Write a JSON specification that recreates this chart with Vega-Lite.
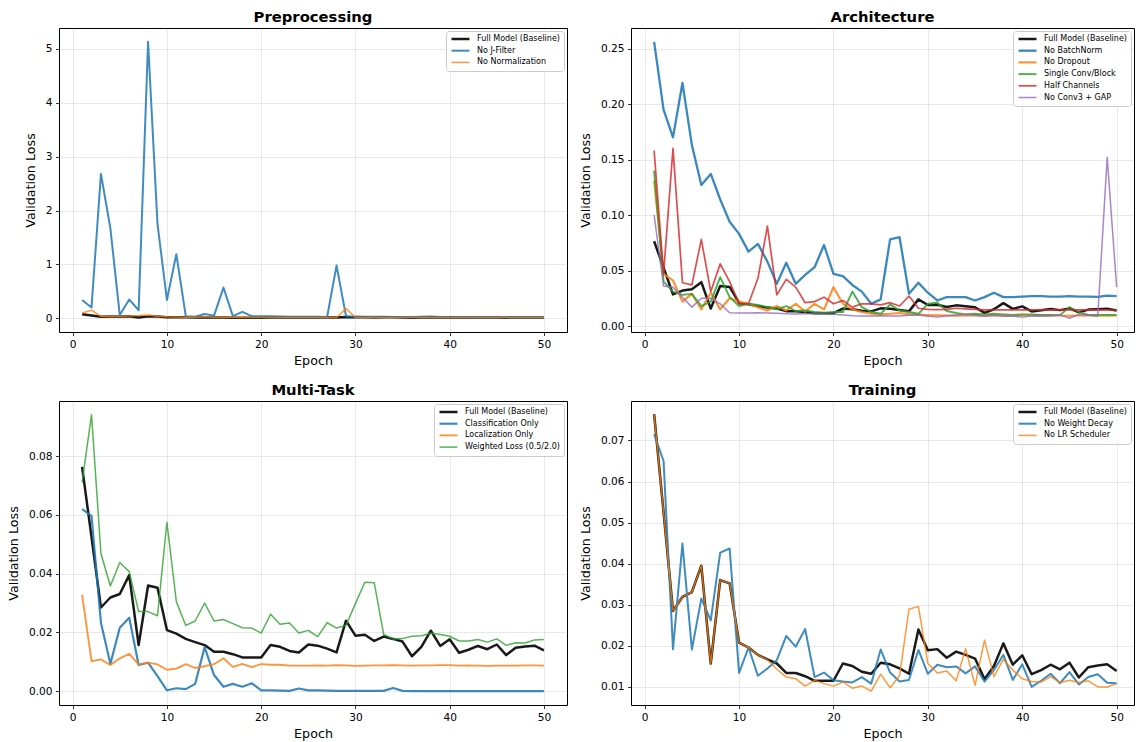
{
"$schema": "https://vega.github.io/schema/vega-lite/v6.json",
"padding": {"left": 6, "top": 9, "right": 0, "bottom": 0},
"columns": 2,
"spacing": {"row": 69, "column": 64},
"bounds": "flush",
"align": "each",
"resolve": {"scale": {"color": "independent", "strokeWidth": "independent", "opacity": "independent"}},
"config": {
"font": "DejaVu Sans",
"view": {"stroke": "black", "strokeWidth": 1},
"axis": {"domain": false, "grid": true, "gridColor": "#b0b0b0", "gridOpacity": 0.35, "gridWidth": 0.8, "tickColor": "black", "tickSize": 3.5, "tickWidth": 0.8, "labelFont": "DejaVu Sans", "labelFontSize": 10.6, "labelColor": "black", "labelPadding": 3.5, "titleFont": "DejaVu Sans", "titleFontSize": 12.7, "titleFontWeight": "normal", "titleColor": "black"},
"axisX": {"titlePadding": 5},
"axisY": {"titlePadding": 8},
"title": {"font": "DejaVu Sans", "fontSize": 14.8, "fontWeight": "bold", "color": "black", "offset": 3, "baseline": "alphabetic", "frame": "group", "anchor": "middle"},
"legend": {"orient": "top-right", "offset": 3, "fillColor": "rgba(255,255,255,0.8)", "strokeColor": "#cccccc", "cornerRadius": 3, "padding": 4, "labelFont": "DejaVu Sans", "labelFontSize": 8, "labelColor": "black", "symbolType": "M-1,0H6.2", "symbolSize": 25, "labelOffset": 19, "rowPadding": 3.7, "title": null},
"line": {"strokeJoin": "round"}
},
"datasets": {
"pre": [
{"series":"Full Model (Baseline)","epoch":1,"loss":0.0764},{"series":"Full Model (Baseline)","epoch":2,"loss":0.0525},{"series":"Full Model (Baseline)","epoch":3,"loss":0.0285},{"series":"Full Model (Baseline)","epoch":4,"loss":0.0319},{"series":"Full Model (Baseline)","epoch":5,"loss":0.0331},{"series":"Full Model (Baseline)","epoch":6,"loss":0.0395},{"series":"Full Model (Baseline)","epoch":7,"loss":0.0157},{"series":"Full Model (Baseline)","epoch":8,"loss":0.036},{"series":"Full Model (Baseline)","epoch":9,"loss":0.0352},{"series":"Full Model (Baseline)","epoch":10,"loss":0.0208},
{"series":"Full Model (Baseline)","epoch":11,"loss":0.0196},{"series":"Full Model (Baseline)","epoch":12,"loss":0.0178},{"series":"Full Model (Baseline)","epoch":13,"loss":0.0167},{"series":"Full Model (Baseline)","epoch":14,"loss":0.0157},{"series":"Full Model (Baseline)","epoch":15,"loss":0.0134},{"series":"Full Model (Baseline)","epoch":16,"loss":0.0134},{"series":"Full Model (Baseline)","epoch":17,"loss":0.0126},{"series":"Full Model (Baseline)","epoch":18,"loss":0.0115},{"series":"Full Model (Baseline)","epoch":19,"loss":0.0115},{"series":"Full Model (Baseline)","epoch":20,"loss":0.0115},
{"series":"Full Model (Baseline)","epoch":21,"loss":0.0157},{"series":"Full Model (Baseline)","epoch":22,"loss":0.0151},{"series":"Full Model (Baseline)","epoch":23,"loss":0.0137},{"series":"Full Model (Baseline)","epoch":24,"loss":0.0132},{"series":"Full Model (Baseline)","epoch":25,"loss":0.0159},{"series":"Full Model (Baseline)","epoch":26,"loss":0.0155},{"series":"Full Model (Baseline)","epoch":27,"loss":0.0145},{"series":"Full Model (Baseline)","epoch":28,"loss":0.0132},{"series":"Full Model (Baseline)","epoch":29,"loss":0.024},{"series":"Full Model (Baseline)","epoch":30,"loss":0.0189},
{"series":"Full Model (Baseline)","epoch":31,"loss":0.0192},{"series":"Full Model (Baseline)","epoch":32,"loss":0.0171},{"series":"Full Model (Baseline)","epoch":33,"loss":0.0186},{"series":"Full Model (Baseline)","epoch":34,"loss":0.0178},{"series":"Full Model (Baseline)","epoch":35,"loss":0.0169},{"series":"Full Model (Baseline)","epoch":36,"loss":0.0119},{"series":"Full Model (Baseline)","epoch":37,"loss":0.0151},{"series":"Full Model (Baseline)","epoch":38,"loss":0.0206},{"series":"Full Model (Baseline)","epoch":39,"loss":0.0154},{"series":"Full Model (Baseline)","epoch":40,"loss":0.0177},
{"series":"Full Model (Baseline)","epoch":41,"loss":0.0131},{"series":"Full Model (Baseline)","epoch":42,"loss":0.0141},{"series":"Full Model (Baseline)","epoch":43,"loss":0.0154},{"series":"Full Model (Baseline)","epoch":44,"loss":0.0143},{"series":"Full Model (Baseline)","epoch":45,"loss":0.0159},{"series":"Full Model (Baseline)","epoch":46,"loss":0.0123},{"series":"Full Model (Baseline)","epoch":47,"loss":0.0148},{"series":"Full Model (Baseline)","epoch":48,"loss":0.0152},{"series":"Full Model (Baseline)","epoch":49,"loss":0.0155},{"series":"Full Model (Baseline)","epoch":50,"loss":0.0139},
{"series":"No J-Filter","epoch":1,"loss":0.34},{"series":"No J-Filter","epoch":2,"loss":0.2},{"series":"No J-Filter","epoch":3,"loss":2.68},{"series":"No J-Filter","epoch":4,"loss":1.67},{"series":"No J-Filter","epoch":5,"loss":0.06},{"series":"No J-Filter","epoch":6,"loss":0.35},{"series":"No J-Filter","epoch":7,"loss":0.15},{"series":"No J-Filter","epoch":8,"loss":5.13},{"series":"No J-Filter","epoch":9,"loss":1.75},{"series":"No J-Filter","epoch":10,"loss":0.34},
{"series":"No J-Filter","epoch":11,"loss":1.19},{"series":"No J-Filter","epoch":12,"loss":0.04},{"series":"No J-Filter","epoch":13,"loss":0.03},{"series":"No J-Filter","epoch":14,"loss":0.08},{"series":"No J-Filter","epoch":15,"loss":0.05},{"series":"No J-Filter","epoch":16,"loss":0.57},{"series":"No J-Filter","epoch":17,"loss":0.04},{"series":"No J-Filter","epoch":18,"loss":0.12},{"series":"No J-Filter","epoch":19,"loss":0.04},{"series":"No J-Filter","epoch":20,"loss":0.04},
{"series":"No J-Filter","epoch":21,"loss":0.04},{"series":"No J-Filter","epoch":22,"loss":0.035},{"series":"No J-Filter","epoch":23,"loss":0.03},{"series":"No J-Filter","epoch":24,"loss":0.03},{"series":"No J-Filter","epoch":25,"loss":0.03},{"series":"No J-Filter","epoch":26,"loss":0.03},{"series":"No J-Filter","epoch":27,"loss":0.025},{"series":"No J-Filter","epoch":28,"loss":0.98},{"series":"No J-Filter","epoch":29,"loss":0.04},{"series":"No J-Filter","epoch":30,"loss":0.035},
{"series":"No J-Filter","epoch":31,"loss":0.03},{"series":"No J-Filter","epoch":32,"loss":0.03},{"series":"No J-Filter","epoch":33,"loss":0.03},{"series":"No J-Filter","epoch":34,"loss":0.025},{"series":"No J-Filter","epoch":35,"loss":0.025},{"series":"No J-Filter","epoch":36,"loss":0.025},{"series":"No J-Filter","epoch":37,"loss":0.03},{"series":"No J-Filter","epoch":38,"loss":0.035},{"series":"No J-Filter","epoch":39,"loss":0.025},{"series":"No J-Filter","epoch":40,"loss":0.025},
{"series":"No J-Filter","epoch":41,"loss":0.025},{"series":"No J-Filter","epoch":42,"loss":0.025},{"series":"No J-Filter","epoch":43,"loss":0.02},{"series":"No J-Filter","epoch":44,"loss":0.02},{"series":"No J-Filter","epoch":45,"loss":0.02},{"series":"No J-Filter","epoch":46,"loss":0.02},{"series":"No J-Filter","epoch":47,"loss":0.02},{"series":"No J-Filter","epoch":48,"loss":0.02},{"series":"No J-Filter","epoch":49,"loss":0.02},{"series":"No J-Filter","epoch":50,"loss":0.02},
{"series":"No Normalization","epoch":1,"loss":0.1},{"series":"No Normalization","epoch":2,"loss":0.15},{"series":"No Normalization","epoch":3,"loss":0.035},{"series":"No Normalization","epoch":4,"loss":0.04},{"series":"No Normalization","epoch":5,"loss":0.04},{"series":"No Normalization","epoch":6,"loss":0.045},{"series":"No Normalization","epoch":7,"loss":0.05},{"series":"No Normalization","epoch":8,"loss":0.06},{"series":"No Normalization","epoch":9,"loss":0.04},{"series":"No Normalization","epoch":10,"loss":0.03},
{"series":"No Normalization","epoch":11,"loss":0.025},{"series":"No Normalization","epoch":12,"loss":0.02},{"series":"No Normalization","epoch":13,"loss":0.02},{"series":"No Normalization","epoch":14,"loss":0.03},{"series":"No Normalization","epoch":15,"loss":0.02},{"series":"No Normalization","epoch":16,"loss":0.02},{"series":"No Normalization","epoch":17,"loss":0.015},{"series":"No Normalization","epoch":18,"loss":0.02},{"series":"No Normalization","epoch":19,"loss":0.015},{"series":"No Normalization","epoch":20,"loss":0.015},
{"series":"No Normalization","epoch":21,"loss":0.015},{"series":"No Normalization","epoch":22,"loss":0.015},{"series":"No Normalization","epoch":23,"loss":0.015},{"series":"No Normalization","epoch":24,"loss":0.015},{"series":"No Normalization","epoch":25,"loss":0.015},{"series":"No Normalization","epoch":26,"loss":0.015},{"series":"No Normalization","epoch":27,"loss":0.015},{"series":"No Normalization","epoch":28,"loss":0.015},{"series":"No Normalization","epoch":29,"loss":0.18},{"series":"No Normalization","epoch":30,"loss":0.02},
{"series":"No Normalization","epoch":31,"loss":0.015},{"series":"No Normalization","epoch":32,"loss":0.015},{"series":"No Normalization","epoch":33,"loss":0.015},{"series":"No Normalization","epoch":34,"loss":0.015},{"series":"No Normalization","epoch":35,"loss":0.015},{"series":"No Normalization","epoch":36,"loss":0.015},{"series":"No Normalization","epoch":37,"loss":0.015},{"series":"No Normalization","epoch":38,"loss":0.015},{"series":"No Normalization","epoch":39,"loss":0.015},{"series":"No Normalization","epoch":40,"loss":0.015},
{"series":"No Normalization","epoch":41,"loss":0.015},{"series":"No Normalization","epoch":42,"loss":0.015},{"series":"No Normalization","epoch":43,"loss":0.015},{"series":"No Normalization","epoch":44,"loss":0.015},{"series":"No Normalization","epoch":45,"loss":0.015},{"series":"No Normalization","epoch":46,"loss":0.015},{"series":"No Normalization","epoch":47,"loss":0.015},{"series":"No Normalization","epoch":48,"loss":0.015},{"series":"No Normalization","epoch":49,"loss":0.015},{"series":"No Normalization","epoch":50,"loss":0.015}
],
"arch": [
{"series":"Full Model (Baseline)","epoch":1,"loss":0.0764},{"series":"Full Model (Baseline)","epoch":2,"loss":0.0525},{"series":"Full Model (Baseline)","epoch":3,"loss":0.0285},{"series":"Full Model (Baseline)","epoch":4,"loss":0.0319},{"series":"Full Model (Baseline)","epoch":5,"loss":0.0331},{"series":"Full Model (Baseline)","epoch":6,"loss":0.0395},{"series":"Full Model (Baseline)","epoch":7,"loss":0.0157},{"series":"Full Model (Baseline)","epoch":8,"loss":0.036},{"series":"Full Model (Baseline)","epoch":9,"loss":0.0352},{"series":"Full Model (Baseline)","epoch":10,"loss":0.0208},
{"series":"Full Model (Baseline)","epoch":11,"loss":0.0196},{"series":"Full Model (Baseline)","epoch":12,"loss":0.0178},{"series":"Full Model (Baseline)","epoch":13,"loss":0.0167},{"series":"Full Model (Baseline)","epoch":14,"loss":0.0157},{"series":"Full Model (Baseline)","epoch":15,"loss":0.0134},{"series":"Full Model (Baseline)","epoch":16,"loss":0.0134},{"series":"Full Model (Baseline)","epoch":17,"loss":0.0126},{"series":"Full Model (Baseline)","epoch":18,"loss":0.0115},{"series":"Full Model (Baseline)","epoch":19,"loss":0.0115},{"series":"Full Model (Baseline)","epoch":20,"loss":0.0115},
{"series":"Full Model (Baseline)","epoch":21,"loss":0.0157},{"series":"Full Model (Baseline)","epoch":22,"loss":0.0151},{"series":"Full Model (Baseline)","epoch":23,"loss":0.0137},{"series":"Full Model (Baseline)","epoch":24,"loss":0.0132},{"series":"Full Model (Baseline)","epoch":25,"loss":0.0159},{"series":"Full Model (Baseline)","epoch":26,"loss":0.0155},{"series":"Full Model (Baseline)","epoch":27,"loss":0.0145},{"series":"Full Model (Baseline)","epoch":28,"loss":0.0132},{"series":"Full Model (Baseline)","epoch":29,"loss":0.024},{"series":"Full Model (Baseline)","epoch":30,"loss":0.0189},
{"series":"Full Model (Baseline)","epoch":31,"loss":0.0192},{"series":"Full Model (Baseline)","epoch":32,"loss":0.0171},{"series":"Full Model (Baseline)","epoch":33,"loss":0.0186},{"series":"Full Model (Baseline)","epoch":34,"loss":0.0178},{"series":"Full Model (Baseline)","epoch":35,"loss":0.0169},{"series":"Full Model (Baseline)","epoch":36,"loss":0.0119},{"series":"Full Model (Baseline)","epoch":37,"loss":0.0151},{"series":"Full Model (Baseline)","epoch":38,"loss":0.0206},{"series":"Full Model (Baseline)","epoch":39,"loss":0.0154},{"series":"Full Model (Baseline)","epoch":40,"loss":0.0177},
{"series":"Full Model (Baseline)","epoch":41,"loss":0.0131},{"series":"Full Model (Baseline)","epoch":42,"loss":0.0141},{"series":"Full Model (Baseline)","epoch":43,"loss":0.0154},{"series":"Full Model (Baseline)","epoch":44,"loss":0.0143},{"series":"Full Model (Baseline)","epoch":45,"loss":0.0159},{"series":"Full Model (Baseline)","epoch":46,"loss":0.0123},{"series":"Full Model (Baseline)","epoch":47,"loss":0.0148},{"series":"Full Model (Baseline)","epoch":48,"loss":0.0152},{"series":"Full Model (Baseline)","epoch":49,"loss":0.0155},{"series":"Full Model (Baseline)","epoch":50,"loss":0.0139},
{"series":"No BatchNorm","epoch":1,"loss":0.256},{"series":"No BatchNorm","epoch":2,"loss":0.195},{"series":"No BatchNorm","epoch":3,"loss":0.17},{"series":"No BatchNorm","epoch":4,"loss":0.219},{"series":"No BatchNorm","epoch":5,"loss":0.163},{"series":"No BatchNorm","epoch":6,"loss":0.127},{"series":"No BatchNorm","epoch":7,"loss":0.137},{"series":"No BatchNorm","epoch":8,"loss":0.114},{"series":"No BatchNorm","epoch":9,"loss":0.094},{"series":"No BatchNorm","epoch":10,"loss":0.083},
{"series":"No BatchNorm","epoch":11,"loss":0.067},{"series":"No BatchNorm","epoch":12,"loss":0.074},{"series":"No BatchNorm","epoch":13,"loss":0.058},{"series":"No BatchNorm","epoch":14,"loss":0.038},{"series":"No BatchNorm","epoch":15,"loss":0.057},{"series":"No BatchNorm","epoch":16,"loss":0.038},{"series":"No BatchNorm","epoch":17,"loss":0.046},{"series":"No BatchNorm","epoch":18,"loss":0.053},{"series":"No BatchNorm","epoch":19,"loss":0.073},{"series":"No BatchNorm","epoch":20,"loss":0.047},
{"series":"No BatchNorm","epoch":21,"loss":0.045},{"series":"No BatchNorm","epoch":22,"loss":0.037},{"series":"No BatchNorm","epoch":23,"loss":0.031},{"series":"No BatchNorm","epoch":24,"loss":0.02},{"series":"No BatchNorm","epoch":25,"loss":0.024},{"series":"No BatchNorm","epoch":26,"loss":0.078},{"series":"No BatchNorm","epoch":27,"loss":0.08},{"series":"No BatchNorm","epoch":28,"loss":0.029},{"series":"No BatchNorm","epoch":29,"loss":0.039},{"series":"No BatchNorm","epoch":30,"loss":0.03},
{"series":"No BatchNorm","epoch":31,"loss":0.023},{"series":"No BatchNorm","epoch":32,"loss":0.026},{"series":"No BatchNorm","epoch":33,"loss":0.026},{"series":"No BatchNorm","epoch":34,"loss":0.026},{"series":"No BatchNorm","epoch":35,"loss":0.023},{"series":"No BatchNorm","epoch":36,"loss":0.026},{"series":"No BatchNorm","epoch":37,"loss":0.03},{"series":"No BatchNorm","epoch":38,"loss":0.026},{"series":"No BatchNorm","epoch":39,"loss":0.026},{"series":"No BatchNorm","epoch":40,"loss":0.0265},
{"series":"No BatchNorm","epoch":41,"loss":0.027},{"series":"No BatchNorm","epoch":42,"loss":0.027},{"series":"No BatchNorm","epoch":43,"loss":0.0265},{"series":"No BatchNorm","epoch":44,"loss":0.0265},{"series":"No BatchNorm","epoch":45,"loss":0.027},{"series":"No BatchNorm","epoch":46,"loss":0.0265},{"series":"No BatchNorm","epoch":47,"loss":0.0265},{"series":"No BatchNorm","epoch":48,"loss":0.0263},{"series":"No BatchNorm","epoch":49,"loss":0.0273},{"series":"No BatchNorm","epoch":50,"loss":0.027},
{"series":"No Dropout","epoch":1,"loss":0.131},{"series":"No Dropout","epoch":2,"loss":0.047},{"series":"No Dropout","epoch":3,"loss":0.041},{"series":"No Dropout","epoch":4,"loss":0.022},{"series":"No Dropout","epoch":5,"loss":0.029},{"series":"No Dropout","epoch":6,"loss":0.015},{"series":"No Dropout","epoch":7,"loss":0.03},{"series":"No Dropout","epoch":8,"loss":0.015},{"series":"No Dropout","epoch":9,"loss":0.025},{"series":"No Dropout","epoch":10,"loss":0.022},
{"series":"No Dropout","epoch":11,"loss":0.02},{"series":"No Dropout","epoch":12,"loss":0.017},{"series":"No Dropout","epoch":13,"loss":0.014},{"series":"No Dropout","epoch":14,"loss":0.018},{"series":"No Dropout","epoch":15,"loss":0.014},{"series":"No Dropout","epoch":16,"loss":0.02},{"series":"No Dropout","epoch":17,"loss":0.013},{"series":"No Dropout","epoch":18,"loss":0.02},{"series":"No Dropout","epoch":19,"loss":0.015},{"series":"No Dropout","epoch":20,"loss":0.035},
{"series":"No Dropout","epoch":21,"loss":0.02},{"series":"No Dropout","epoch":22,"loss":0.015},{"series":"No Dropout","epoch":23,"loss":0.0126},{"series":"No Dropout","epoch":24,"loss":0.011},{"series":"No Dropout","epoch":25,"loss":0.0105},{"series":"No Dropout","epoch":26,"loss":0.011},{"series":"No Dropout","epoch":27,"loss":0.0117},{"series":"No Dropout","epoch":28,"loss":0.0105},{"series":"No Dropout","epoch":29,"loss":0.0105},{"series":"No Dropout","epoch":30,"loss":0.0096},
{"series":"No Dropout","epoch":31,"loss":0.0096},{"series":"No Dropout","epoch":32,"loss":0.0094},{"series":"No Dropout","epoch":33,"loss":0.0093},{"series":"No Dropout","epoch":34,"loss":0.0095},{"series":"No Dropout","epoch":35,"loss":0.0094},{"series":"No Dropout","epoch":36,"loss":0.0093},{"series":"No Dropout","epoch":37,"loss":0.0095},{"series":"No Dropout","epoch":38,"loss":0.0094},{"series":"No Dropout","epoch":39,"loss":0.0093},{"series":"No Dropout","epoch":40,"loss":0.0094},
{"series":"No Dropout","epoch":41,"loss":0.0095},{"series":"No Dropout","epoch":42,"loss":0.0093},{"series":"No Dropout","epoch":43,"loss":0.0094},{"series":"No Dropout","epoch":44,"loss":0.0095},{"series":"No Dropout","epoch":45,"loss":0.0093},{"series":"No Dropout","epoch":46,"loss":0.0094},{"series":"No Dropout","epoch":47,"loss":0.0095},{"series":"No Dropout","epoch":48,"loss":0.0094},{"series":"No Dropout","epoch":49,"loss":0.0093},{"series":"No Dropout","epoch":50,"loss":0.0094},
{"series":"Single Conv/Block","epoch":1,"loss":0.14},{"series":"Single Conv/Block","epoch":2,"loss":0.04},{"series":"Single Conv/Block","epoch":3,"loss":0.031},{"series":"Single Conv/Block","epoch":4,"loss":0.028},{"series":"Single Conv/Block","epoch":5,"loss":0.029},{"series":"Single Conv/Block","epoch":6,"loss":0.018},{"series":"Single Conv/Block","epoch":7,"loss":0.022},{"series":"Single Conv/Block","epoch":8,"loss":0.044},{"series":"Single Conv/Block","epoch":9,"loss":0.026},{"series":"Single Conv/Block","epoch":10,"loss":0.018},
{"series":"Single Conv/Block","epoch":11,"loss":0.02},{"series":"Single Conv/Block","epoch":12,"loss":0.019},{"series":"Single Conv/Block","epoch":13,"loss":0.017},{"series":"Single Conv/Block","epoch":14,"loss":0.015},{"series":"Single Conv/Block","epoch":15,"loss":0.018},{"series":"Single Conv/Block","epoch":16,"loss":0.0135},{"series":"Single Conv/Block","epoch":17,"loss":0.014},{"series":"Single Conv/Block","epoch":18,"loss":0.0126},{"series":"Single Conv/Block","epoch":19,"loss":0.012},{"series":"Single Conv/Block","epoch":20,"loss":0.0126},
{"series":"Single Conv/Block","epoch":21,"loss":0.0126},{"series":"Single Conv/Block","epoch":22,"loss":0.031},{"series":"Single Conv/Block","epoch":23,"loss":0.017},{"series":"Single Conv/Block","epoch":24,"loss":0.0126},{"series":"Single Conv/Block","epoch":25,"loss":0.011},{"series":"Single Conv/Block","epoch":26,"loss":0.0195},{"series":"Single Conv/Block","epoch":27,"loss":0.014},{"series":"Single Conv/Block","epoch":28,"loss":0.0126},{"series":"Single Conv/Block","epoch":29,"loss":0.011},{"series":"Single Conv/Block","epoch":30,"loss":0.02},
{"series":"Single Conv/Block","epoch":31,"loss":0.021},{"series":"Single Conv/Block","epoch":32,"loss":0.0135},{"series":"Single Conv/Block","epoch":33,"loss":0.0117},{"series":"Single Conv/Block","epoch":34,"loss":0.0105},{"series":"Single Conv/Block","epoch":35,"loss":0.011},{"series":"Single Conv/Block","epoch":36,"loss":0.0105},{"series":"Single Conv/Block","epoch":37,"loss":0.011},{"series":"Single Conv/Block","epoch":38,"loss":0.0105},{"series":"Single Conv/Block","epoch":39,"loss":0.01},{"series":"Single Conv/Block","epoch":40,"loss":0.0105},
{"series":"Single Conv/Block","epoch":41,"loss":0.0105},{"series":"Single Conv/Block","epoch":42,"loss":0.01},{"series":"Single Conv/Block","epoch":43,"loss":0.01},{"series":"Single Conv/Block","epoch":44,"loss":0.0098},{"series":"Single Conv/Block","epoch":45,"loss":0.017},{"series":"Single Conv/Block","epoch":46,"loss":0.0126},{"series":"Single Conv/Block","epoch":47,"loss":0.01},{"series":"Single Conv/Block","epoch":48,"loss":0.01},{"series":"Single Conv/Block","epoch":49,"loss":0.01},{"series":"Single Conv/Block","epoch":50,"loss":0.01},
{"series":"Half Channels","epoch":1,"loss":0.158},{"series":"Half Channels","epoch":2,"loss":0.047},{"series":"Half Channels","epoch":3,"loss":0.16},{"series":"Half Channels","epoch":4,"loss":0.039},{"series":"Half Channels","epoch":5,"loss":0.037},{"series":"Half Channels","epoch":6,"loss":0.078},{"series":"Half Channels","epoch":7,"loss":0.031},{"series":"Half Channels","epoch":8,"loss":0.056},{"series":"Half Channels","epoch":9,"loss":0.04},{"series":"Half Channels","epoch":10,"loss":0.02},
{"series":"Half Channels","epoch":11,"loss":0.02},{"series":"Half Channels","epoch":12,"loss":0.043},{"series":"Half Channels","epoch":13,"loss":0.09},{"series":"Half Channels","epoch":14,"loss":0.028},{"series":"Half Channels","epoch":15,"loss":0.042},{"series":"Half Channels","epoch":16,"loss":0.035},{"series":"Half Channels","epoch":17,"loss":0.021},{"series":"Half Channels","epoch":18,"loss":0.022},{"series":"Half Channels","epoch":19,"loss":0.026},{"series":"Half Channels","epoch":20,"loss":0.02},
{"series":"Half Channels","epoch":21,"loss":0.023},{"series":"Half Channels","epoch":22,"loss":0.017},{"series":"Half Channels","epoch":23,"loss":0.02},{"series":"Half Channels","epoch":24,"loss":0.02},{"series":"Half Channels","epoch":25,"loss":0.019},{"series":"Half Channels","epoch":26,"loss":0.021},{"series":"Half Channels","epoch":27,"loss":0.018},{"series":"Half Channels","epoch":28,"loss":0.027},{"series":"Half Channels","epoch":29,"loss":0.016},{"series":"Half Channels","epoch":30,"loss":0.015},
{"series":"Half Channels","epoch":31,"loss":0.0147},{"series":"Half Channels","epoch":32,"loss":0.015},{"series":"Half Channels","epoch":33,"loss":0.016},{"series":"Half Channels","epoch":34,"loss":0.0155},{"series":"Half Channels","epoch":35,"loss":0.015},{"series":"Half Channels","epoch":36,"loss":0.0145},{"series":"Half Channels","epoch":37,"loss":0.0145},{"series":"Half Channels","epoch":38,"loss":0.0145},{"series":"Half Channels","epoch":39,"loss":0.0145},{"series":"Half Channels","epoch":40,"loss":0.0145},
{"series":"Half Channels","epoch":41,"loss":0.0145},{"series":"Half Channels","epoch":42,"loss":0.0145},{"series":"Half Channels","epoch":43,"loss":0.0145},{"series":"Half Channels","epoch":44,"loss":0.0145},{"series":"Half Channels","epoch":45,"loss":0.0145},{"series":"Half Channels","epoch":46,"loss":0.0145},{"series":"Half Channels","epoch":47,"loss":0.0145},{"series":"Half Channels","epoch":48,"loss":0.0145},{"series":"Half Channels","epoch":49,"loss":0.0145},{"series":"Half Channels","epoch":50,"loss":0.014},
{"series":"No Conv3 + GAP","epoch":1,"loss":0.1},{"series":"No Conv3 + GAP","epoch":2,"loss":0.036},{"series":"No Conv3 + GAP","epoch":3,"loss":0.035},{"series":"No Conv3 + GAP","epoch":4,"loss":0.026},{"series":"No Conv3 + GAP","epoch":5,"loss":0.017},{"series":"No Conv3 + GAP","epoch":6,"loss":0.025},{"series":"No Conv3 + GAP","epoch":7,"loss":0.025},{"series":"No Conv3 + GAP","epoch":8,"loss":0.02},{"series":"No Conv3 + GAP","epoch":9,"loss":0.012},{"series":"No Conv3 + GAP","epoch":10,"loss":0.0117},
{"series":"No Conv3 + GAP","epoch":11,"loss":0.0117},{"series":"No Conv3 + GAP","epoch":12,"loss":0.012},{"series":"No Conv3 + GAP","epoch":13,"loss":0.0117},{"series":"No Conv3 + GAP","epoch":14,"loss":0.0114},{"series":"No Conv3 + GAP","epoch":15,"loss":0.011},{"series":"No Conv3 + GAP","epoch":16,"loss":0.0108},{"series":"No Conv3 + GAP","epoch":17,"loss":0.011},{"series":"No Conv3 + GAP","epoch":18,"loss":0.011},{"series":"No Conv3 + GAP","epoch":19,"loss":0.0105},{"series":"No Conv3 + GAP","epoch":20,"loss":0.0105},
{"series":"No Conv3 + GAP","epoch":21,"loss":0.01},{"series":"No Conv3 + GAP","epoch":22,"loss":0.0093},{"series":"No Conv3 + GAP","epoch":23,"loss":0.009},{"series":"No Conv3 + GAP","epoch":24,"loss":0.009},{"series":"No Conv3 + GAP","epoch":25,"loss":0.0093},{"series":"No Conv3 + GAP","epoch":26,"loss":0.009},{"series":"No Conv3 + GAP","epoch":27,"loss":0.009},{"series":"No Conv3 + GAP","epoch":28,"loss":0.0096},{"series":"No Conv3 + GAP","epoch":29,"loss":0.01},{"series":"No Conv3 + GAP","epoch":30,"loss":0.009},
{"series":"No Conv3 + GAP","epoch":31,"loss":0.008},{"series":"No Conv3 + GAP","epoch":32,"loss":0.0093},{"series":"No Conv3 + GAP","epoch":33,"loss":0.01},{"series":"No Conv3 + GAP","epoch":34,"loss":0.0105},{"series":"No Conv3 + GAP","epoch":35,"loss":0.0096},{"series":"No Conv3 + GAP","epoch":36,"loss":0.0087},{"series":"No Conv3 + GAP","epoch":37,"loss":0.0096},{"series":"No Conv3 + GAP","epoch":38,"loss":0.0087},{"series":"No Conv3 + GAP","epoch":39,"loss":0.009},{"series":"No Conv3 + GAP","epoch":40,"loss":0.008},
{"series":"No Conv3 + GAP","epoch":41,"loss":0.009},{"series":"No Conv3 + GAP","epoch":42,"loss":0.0093},{"series":"No Conv3 + GAP","epoch":43,"loss":0.009},{"series":"No Conv3 + GAP","epoch":44,"loss":0.01},{"series":"No Conv3 + GAP","epoch":45,"loss":0.007},{"series":"No Conv3 + GAP","epoch":46,"loss":0.0105},{"series":"No Conv3 + GAP","epoch":47,"loss":0.0096},{"series":"No Conv3 + GAP","epoch":48,"loss":0.0087},{"series":"No Conv3 + GAP","epoch":49,"loss":0.152},{"series":"No Conv3 + GAP","epoch":50,"loss":0.035}
],
"multi": [
{"series":"Full Model (Baseline)","epoch":1,"loss":0.0764},{"series":"Full Model (Baseline)","epoch":2,"loss":0.0525},{"series":"Full Model (Baseline)","epoch":3,"loss":0.0285},{"series":"Full Model (Baseline)","epoch":4,"loss":0.0319},{"series":"Full Model (Baseline)","epoch":5,"loss":0.0331},{"series":"Full Model (Baseline)","epoch":6,"loss":0.0395},{"series":"Full Model (Baseline)","epoch":7,"loss":0.0157},{"series":"Full Model (Baseline)","epoch":8,"loss":0.036},{"series":"Full Model (Baseline)","epoch":9,"loss":0.0352},{"series":"Full Model (Baseline)","epoch":10,"loss":0.0208},
{"series":"Full Model (Baseline)","epoch":11,"loss":0.0196},{"series":"Full Model (Baseline)","epoch":12,"loss":0.0178},{"series":"Full Model (Baseline)","epoch":13,"loss":0.0167},{"series":"Full Model (Baseline)","epoch":14,"loss":0.0157},{"series":"Full Model (Baseline)","epoch":15,"loss":0.0134},{"series":"Full Model (Baseline)","epoch":16,"loss":0.0134},{"series":"Full Model (Baseline)","epoch":17,"loss":0.0126},{"series":"Full Model (Baseline)","epoch":18,"loss":0.0115},{"series":"Full Model (Baseline)","epoch":19,"loss":0.0115},{"series":"Full Model (Baseline)","epoch":20,"loss":0.0115},
{"series":"Full Model (Baseline)","epoch":21,"loss":0.0157},{"series":"Full Model (Baseline)","epoch":22,"loss":0.0151},{"series":"Full Model (Baseline)","epoch":23,"loss":0.0137},{"series":"Full Model (Baseline)","epoch":24,"loss":0.0132},{"series":"Full Model (Baseline)","epoch":25,"loss":0.0159},{"series":"Full Model (Baseline)","epoch":26,"loss":0.0155},{"series":"Full Model (Baseline)","epoch":27,"loss":0.0145},{"series":"Full Model (Baseline)","epoch":28,"loss":0.0132},{"series":"Full Model (Baseline)","epoch":29,"loss":0.024},{"series":"Full Model (Baseline)","epoch":30,"loss":0.0189},
{"series":"Full Model (Baseline)","epoch":31,"loss":0.0192},{"series":"Full Model (Baseline)","epoch":32,"loss":0.0171},{"series":"Full Model (Baseline)","epoch":33,"loss":0.0186},{"series":"Full Model (Baseline)","epoch":34,"loss":0.0178},{"series":"Full Model (Baseline)","epoch":35,"loss":0.0169},{"series":"Full Model (Baseline)","epoch":36,"loss":0.0119},{"series":"Full Model (Baseline)","epoch":37,"loss":0.0151},{"series":"Full Model (Baseline)","epoch":38,"loss":0.0206},{"series":"Full Model (Baseline)","epoch":39,"loss":0.0154},{"series":"Full Model (Baseline)","epoch":40,"loss":0.0177},
{"series":"Full Model (Baseline)","epoch":41,"loss":0.0131},{"series":"Full Model (Baseline)","epoch":42,"loss":0.0141},{"series":"Full Model (Baseline)","epoch":43,"loss":0.0154},{"series":"Full Model (Baseline)","epoch":44,"loss":0.0143},{"series":"Full Model (Baseline)","epoch":45,"loss":0.0159},{"series":"Full Model (Baseline)","epoch":46,"loss":0.0123},{"series":"Full Model (Baseline)","epoch":47,"loss":0.0148},{"series":"Full Model (Baseline)","epoch":48,"loss":0.0152},{"series":"Full Model (Baseline)","epoch":49,"loss":0.0155},{"series":"Full Model (Baseline)","epoch":50,"loss":0.0139},
{"series":"Classification Only","epoch":1,"loss":0.062},{"series":"Classification Only","epoch":2,"loss":0.0597},{"series":"Classification Only","epoch":3,"loss":0.0233},{"series":"Classification Only","epoch":4,"loss":0.0093},{"series":"Classification Only","epoch":5,"loss":0.0216},{"series":"Classification Only","epoch":6,"loss":0.025},{"series":"Classification Only","epoch":7,"loss":0.0089},{"series":"Classification Only","epoch":8,"loss":0.0097},{"series":"Classification Only","epoch":9,"loss":0.0051},{"series":"Classification Only","epoch":10,"loss":0.0003},
{"series":"Classification Only","epoch":11,"loss":0.001},{"series":"Classification Only","epoch":12,"loss":0.0007},{"series":"Classification Only","epoch":13,"loss":0.0025},{"series":"Classification Only","epoch":14,"loss":0.015},{"series":"Classification Only","epoch":15,"loss":0.0055},{"series":"Classification Only","epoch":16,"loss":0.0015},{"series":"Classification Only","epoch":17,"loss":0.0025},{"series":"Classification Only","epoch":18,"loss":0.0015},{"series":"Classification Only","epoch":19,"loss":0.0027},{"series":"Classification Only","epoch":20,"loss":0.0003},
{"series":"Classification Only","epoch":21,"loss":0.0003},{"series":"Classification Only","epoch":22,"loss":0.0002},{"series":"Classification Only","epoch":23,"loss":0.0001},{"series":"Classification Only","epoch":24,"loss":0.0009},{"series":"Classification Only","epoch":25,"loss":0.0003},{"series":"Classification Only","epoch":26,"loss":0.0003},{"series":"Classification Only","epoch":27,"loss":0.0002},{"series":"Classification Only","epoch":28,"loss":0.0001},{"series":"Classification Only","epoch":29,"loss":0.0001},{"series":"Classification Only","epoch":30,"loss":0.0001},
{"series":"Classification Only","epoch":31,"loss":0.0001},{"series":"Classification Only","epoch":32,"loss":0.0001},{"series":"Classification Only","epoch":33,"loss":0.0001},{"series":"Classification Only","epoch":34,"loss":0.0011},{"series":"Classification Only","epoch":35,"loss":0.0001},{"series":"Classification Only","epoch":36,"loss":0.0},{"series":"Classification Only","epoch":37,"loss":0.0},{"series":"Classification Only","epoch":38,"loss":0.0},{"series":"Classification Only","epoch":39,"loss":0.0},{"series":"Classification Only","epoch":40,"loss":0.0},
{"series":"Classification Only","epoch":41,"loss":0.0},{"series":"Classification Only","epoch":42,"loss":0.0},{"series":"Classification Only","epoch":43,"loss":0.0},{"series":"Classification Only","epoch":44,"loss":0.0},{"series":"Classification Only","epoch":45,"loss":0.0},{"series":"Classification Only","epoch":46,"loss":0.0},{"series":"Classification Only","epoch":47,"loss":0.0},{"series":"Classification Only","epoch":48,"loss":0.0},{"series":"Classification Only","epoch":49,"loss":0.0},{"series":"Classification Only","epoch":50,"loss":0.0},
{"series":"Localization Only","epoch":1,"loss":0.0328},{"series":"Localization Only","epoch":2,"loss":0.0102},{"series":"Localization Only","epoch":3,"loss":0.0108},{"series":"Localization Only","epoch":4,"loss":0.0089},{"series":"Localization Only","epoch":5,"loss":0.0112},{"series":"Localization Only","epoch":6,"loss":0.0127},{"series":"Localization Only","epoch":7,"loss":0.0091},{"series":"Localization Only","epoch":8,"loss":0.0097},{"series":"Localization Only","epoch":9,"loss":0.0091},{"series":"Localization Only","epoch":10,"loss":0.0073},
{"series":"Localization Only","epoch":11,"loss":0.0077},{"series":"Localization Only","epoch":12,"loss":0.0092},{"series":"Localization Only","epoch":13,"loss":0.0079},{"series":"Localization Only","epoch":14,"loss":0.0085},{"series":"Localization Only","epoch":15,"loss":0.0092},{"series":"Localization Only","epoch":16,"loss":0.0112},{"series":"Localization Only","epoch":17,"loss":0.0083},{"series":"Localization Only","epoch":18,"loss":0.0093},{"series":"Localization Only","epoch":19,"loss":0.0082},{"series":"Localization Only","epoch":20,"loss":0.0092},
{"series":"Localization Only","epoch":21,"loss":0.009},{"series":"Localization Only","epoch":22,"loss":0.009},{"series":"Localization Only","epoch":23,"loss":0.0087},{"series":"Localization Only","epoch":24,"loss":0.0087},{"series":"Localization Only","epoch":25,"loss":0.0087},{"series":"Localization Only","epoch":26,"loss":0.0088},{"series":"Localization Only","epoch":27,"loss":0.0087},{"series":"Localization Only","epoch":28,"loss":0.0089},{"series":"Localization Only","epoch":29,"loss":0.0088},{"series":"Localization Only","epoch":30,"loss":0.0086},
{"series":"Localization Only","epoch":31,"loss":0.0087},{"series":"Localization Only","epoch":32,"loss":0.0088},{"series":"Localization Only","epoch":33,"loss":0.0088},{"series":"Localization Only","epoch":34,"loss":0.0089},{"series":"Localization Only","epoch":35,"loss":0.0088},{"series":"Localization Only","epoch":36,"loss":0.0087},{"series":"Localization Only","epoch":37,"loss":0.0088},{"series":"Localization Only","epoch":38,"loss":0.0088},{"series":"Localization Only","epoch":39,"loss":0.0089},{"series":"Localization Only","epoch":40,"loss":0.0089},
{"series":"Localization Only","epoch":41,"loss":0.0087},{"series":"Localization Only","epoch":42,"loss":0.0088},{"series":"Localization Only","epoch":43,"loss":0.0087},{"series":"Localization Only","epoch":44,"loss":0.0086},{"series":"Localization Only","epoch":45,"loss":0.0087},{"series":"Localization Only","epoch":46,"loss":0.0087},{"series":"Localization Only","epoch":47,"loss":0.0087},{"series":"Localization Only","epoch":48,"loss":0.0088},{"series":"Localization Only","epoch":49,"loss":0.0088},{"series":"Localization Only","epoch":50,"loss":0.0087},
{"series":"Weighted Loss (0.5/2.0)","epoch":1,"loss":0.0711},{"series":"Weighted Loss (0.5/2.0)","epoch":2,"loss":0.0941},{"series":"Weighted Loss (0.5/2.0)","epoch":3,"loss":0.0469},{"series":"Weighted Loss (0.5/2.0)","epoch":4,"loss":0.0358},{"series":"Weighted Loss (0.5/2.0)","epoch":5,"loss":0.0438},{"series":"Weighted Loss (0.5/2.0)","epoch":6,"loss":0.0407},{"series":"Weighted Loss (0.5/2.0)","epoch":7,"loss":0.0271},{"series":"Weighted Loss (0.5/2.0)","epoch":8,"loss":0.0271},{"series":"Weighted Loss (0.5/2.0)","epoch":9,"loss":0.0257},{"series":"Weighted Loss (0.5/2.0)","epoch":10,"loss":0.0575},
{"series":"Weighted Loss (0.5/2.0)","epoch":11,"loss":0.0305},{"series":"Weighted Loss (0.5/2.0)","epoch":12,"loss":0.0224},{"series":"Weighted Loss (0.5/2.0)","epoch":13,"loss":0.0239},{"series":"Weighted Loss (0.5/2.0)","epoch":14,"loss":0.03},{"series":"Weighted Loss (0.5/2.0)","epoch":15,"loss":0.0239},{"series":"Weighted Loss (0.5/2.0)","epoch":16,"loss":0.0244},{"series":"Weighted Loss (0.5/2.0)","epoch":17,"loss":0.023},{"series":"Weighted Loss (0.5/2.0)","epoch":18,"loss":0.0216},{"series":"Weighted Loss (0.5/2.0)","epoch":19,"loss":0.0215},{"series":"Weighted Loss (0.5/2.0)","epoch":20,"loss":0.0198},
{"series":"Weighted Loss (0.5/2.0)","epoch":21,"loss":0.0262},{"series":"Weighted Loss (0.5/2.0)","epoch":22,"loss":0.0228},{"series":"Weighted Loss (0.5/2.0)","epoch":23,"loss":0.0232},{"series":"Weighted Loss (0.5/2.0)","epoch":24,"loss":0.0198},{"series":"Weighted Loss (0.5/2.0)","epoch":25,"loss":0.0207},{"series":"Weighted Loss (0.5/2.0)","epoch":26,"loss":0.0186},{"series":"Weighted Loss (0.5/2.0)","epoch":27,"loss":0.0233},{"series":"Weighted Loss (0.5/2.0)","epoch":28,"loss":0.0215},{"series":"Weighted Loss (0.5/2.0)","epoch":29,"loss":0.0224},{"series":"Weighted Loss (0.5/2.0)","epoch":30,"loss":0.0298},
{"series":"Weighted Loss (0.5/2.0)","epoch":31,"loss":0.0371},{"series":"Weighted Loss (0.5/2.0)","epoch":32,"loss":0.0369},{"series":"Weighted Loss (0.5/2.0)","epoch":33,"loss":0.0193},{"series":"Weighted Loss (0.5/2.0)","epoch":34,"loss":0.0178},{"series":"Weighted Loss (0.5/2.0)","epoch":35,"loss":0.0179},{"series":"Weighted Loss (0.5/2.0)","epoch":36,"loss":0.0187},{"series":"Weighted Loss (0.5/2.0)","epoch":37,"loss":0.0189},{"series":"Weighted Loss (0.5/2.0)","epoch":38,"loss":0.0197},{"series":"Weighted Loss (0.5/2.0)","epoch":39,"loss":0.0193},{"series":"Weighted Loss (0.5/2.0)","epoch":40,"loss":0.0187},
{"series":"Weighted Loss (0.5/2.0)","epoch":41,"loss":0.0171},{"series":"Weighted Loss (0.5/2.0)","epoch":42,"loss":0.0171},{"series":"Weighted Loss (0.5/2.0)","epoch":43,"loss":0.0176},{"series":"Weighted Loss (0.5/2.0)","epoch":44,"loss":0.0167},{"series":"Weighted Loss (0.5/2.0)","epoch":45,"loss":0.0178},{"series":"Weighted Loss (0.5/2.0)","epoch":46,"loss":0.0156},{"series":"Weighted Loss (0.5/2.0)","epoch":47,"loss":0.0165},{"series":"Weighted Loss (0.5/2.0)","epoch":48,"loss":0.0164},{"series":"Weighted Loss (0.5/2.0)","epoch":49,"loss":0.0174},{"series":"Weighted Loss (0.5/2.0)","epoch":50,"loss":0.0176}
],
"train": [
{"series":"Full Model (Baseline)","epoch":1,"loss":0.0764},{"series":"Full Model (Baseline)","epoch":2,"loss":0.0525},{"series":"Full Model (Baseline)","epoch":3,"loss":0.0285},{"series":"Full Model (Baseline)","epoch":4,"loss":0.0319},{"series":"Full Model (Baseline)","epoch":5,"loss":0.0331},{"series":"Full Model (Baseline)","epoch":6,"loss":0.0395},{"series":"Full Model (Baseline)","epoch":7,"loss":0.0157},{"series":"Full Model (Baseline)","epoch":8,"loss":0.036},{"series":"Full Model (Baseline)","epoch":9,"loss":0.0352},{"series":"Full Model (Baseline)","epoch":10,"loss":0.0208},
{"series":"Full Model (Baseline)","epoch":11,"loss":0.0196},{"series":"Full Model (Baseline)","epoch":12,"loss":0.0178},{"series":"Full Model (Baseline)","epoch":13,"loss":0.0167},{"series":"Full Model (Baseline)","epoch":14,"loss":0.0157},{"series":"Full Model (Baseline)","epoch":15,"loss":0.0134},{"series":"Full Model (Baseline)","epoch":16,"loss":0.0134},{"series":"Full Model (Baseline)","epoch":17,"loss":0.0126},{"series":"Full Model (Baseline)","epoch":18,"loss":0.0115},{"series":"Full Model (Baseline)","epoch":19,"loss":0.0115},{"series":"Full Model (Baseline)","epoch":20,"loss":0.0115},
{"series":"Full Model (Baseline)","epoch":21,"loss":0.0157},{"series":"Full Model (Baseline)","epoch":22,"loss":0.0151},{"series":"Full Model (Baseline)","epoch":23,"loss":0.0137},{"series":"Full Model (Baseline)","epoch":24,"loss":0.0132},{"series":"Full Model (Baseline)","epoch":25,"loss":0.0159},{"series":"Full Model (Baseline)","epoch":26,"loss":0.0155},{"series":"Full Model (Baseline)","epoch":27,"loss":0.0145},{"series":"Full Model (Baseline)","epoch":28,"loss":0.0132},{"series":"Full Model (Baseline)","epoch":29,"loss":0.024},{"series":"Full Model (Baseline)","epoch":30,"loss":0.0189},
{"series":"Full Model (Baseline)","epoch":31,"loss":0.0192},{"series":"Full Model (Baseline)","epoch":32,"loss":0.0171},{"series":"Full Model (Baseline)","epoch":33,"loss":0.0186},{"series":"Full Model (Baseline)","epoch":34,"loss":0.0178},{"series":"Full Model (Baseline)","epoch":35,"loss":0.0169},{"series":"Full Model (Baseline)","epoch":36,"loss":0.0119},{"series":"Full Model (Baseline)","epoch":37,"loss":0.0151},{"series":"Full Model (Baseline)","epoch":38,"loss":0.0206},{"series":"Full Model (Baseline)","epoch":39,"loss":0.0154},{"series":"Full Model (Baseline)","epoch":40,"loss":0.0177},
{"series":"Full Model (Baseline)","epoch":41,"loss":0.0131},{"series":"Full Model (Baseline)","epoch":42,"loss":0.0141},{"series":"Full Model (Baseline)","epoch":43,"loss":0.0154},{"series":"Full Model (Baseline)","epoch":44,"loss":0.0143},{"series":"Full Model (Baseline)","epoch":45,"loss":0.0159},{"series":"Full Model (Baseline)","epoch":46,"loss":0.0123},{"series":"Full Model (Baseline)","epoch":47,"loss":0.0148},{"series":"Full Model (Baseline)","epoch":48,"loss":0.0152},{"series":"Full Model (Baseline)","epoch":49,"loss":0.0155},{"series":"Full Model (Baseline)","epoch":50,"loss":0.0139},
{"series":"No Weight Decay","epoch":1,"loss":0.0715},{"series":"No Weight Decay","epoch":2,"loss":0.065},{"series":"No Weight Decay","epoch":3,"loss":0.0192},{"series":"No Weight Decay","epoch":4,"loss":0.0449},{"series":"No Weight Decay","epoch":5,"loss":0.0191},{"series":"No Weight Decay","epoch":6,"loss":0.0315},{"series":"No Weight Decay","epoch":7,"loss":0.0262},{"series":"No Weight Decay","epoch":8,"loss":0.0427},{"series":"No Weight Decay","epoch":9,"loss":0.0437},{"series":"No Weight Decay","epoch":10,"loss":0.0134},
{"series":"No Weight Decay","epoch":11,"loss":0.0196},{"series":"No Weight Decay","epoch":12,"loss":0.0127},{"series":"No Weight Decay","epoch":13,"loss":0.0145},{"series":"No Weight Decay","epoch":14,"loss":0.0165},{"series":"No Weight Decay","epoch":15,"loss":0.0224},{"series":"No Weight Decay","epoch":16,"loss":0.0198},{"series":"No Weight Decay","epoch":17,"loss":0.0241},{"series":"No Weight Decay","epoch":18,"loss":0.0124},{"series":"No Weight Decay","epoch":19,"loss":0.0135},{"series":"No Weight Decay","epoch":20,"loss":0.0116},
{"series":"No Weight Decay","epoch":21,"loss":0.0113},{"series":"No Weight Decay","epoch":22,"loss":0.0111},{"series":"No Weight Decay","epoch":23,"loss":0.0124},{"series":"No Weight Decay","epoch":24,"loss":0.0108},{"series":"No Weight Decay","epoch":25,"loss":0.0191},{"series":"No Weight Decay","epoch":26,"loss":0.0135},{"series":"No Weight Decay","epoch":27,"loss":0.0113},{"series":"No Weight Decay","epoch":28,"loss":0.0117},{"series":"No Weight Decay","epoch":29,"loss":0.019},{"series":"No Weight Decay","epoch":30,"loss":0.0132},
{"series":"No Weight Decay","epoch":31,"loss":0.0154},{"series":"No Weight Decay","epoch":32,"loss":0.0148},{"series":"No Weight Decay","epoch":33,"loss":0.015},{"series":"No Weight Decay","epoch":34,"loss":0.0133},{"series":"No Weight Decay","epoch":35,"loss":0.015},{"series":"No Weight Decay","epoch":36,"loss":0.0113},{"series":"No Weight Decay","epoch":37,"loss":0.0141},{"series":"No Weight Decay","epoch":38,"loss":0.0178},{"series":"No Weight Decay","epoch":39,"loss":0.0117},{"series":"No Weight Decay","epoch":40,"loss":0.0155},
{"series":"No Weight Decay","epoch":41,"loss":0.01},{"series":"No Weight Decay","epoch":42,"loss":0.0115},{"series":"No Weight Decay","epoch":43,"loss":0.0132},{"series":"No Weight Decay","epoch":44,"loss":0.0109},{"series":"No Weight Decay","epoch":45,"loss":0.0136},{"series":"No Weight Decay","epoch":46,"loss":0.0106},{"series":"No Weight Decay","epoch":47,"loss":0.0124},{"series":"No Weight Decay","epoch":48,"loss":0.0131},{"series":"No Weight Decay","epoch":49,"loss":0.011},{"series":"No Weight Decay","epoch":50,"loss":0.0109},
{"series":"No LR Scheduler","epoch":1,"loss":0.0764},{"series":"No LR Scheduler","epoch":2,"loss":0.0525},{"series":"No LR Scheduler","epoch":3,"loss":0.0285},{"series":"No LR Scheduler","epoch":4,"loss":0.0319},{"series":"No LR Scheduler","epoch":5,"loss":0.0331},{"series":"No LR Scheduler","epoch":6,"loss":0.0395},{"series":"No LR Scheduler","epoch":7,"loss":0.0157},{"series":"No LR Scheduler","epoch":8,"loss":0.036},{"series":"No LR Scheduler","epoch":9,"loss":0.0352},{"series":"No LR Scheduler","epoch":10,"loss":0.0208},
{"series":"No LR Scheduler","epoch":11,"loss":0.0196},{"series":"No LR Scheduler","epoch":12,"loss":0.0178},{"series":"No LR Scheduler","epoch":13,"loss":0.0166},{"series":"No LR Scheduler","epoch":14,"loss":0.0143},{"series":"No LR Scheduler","epoch":15,"loss":0.0124},{"series":"No LR Scheduler","epoch":16,"loss":0.012},{"series":"No LR Scheduler","epoch":17,"loss":0.0102},{"series":"No LR Scheduler","epoch":18,"loss":0.0116},{"series":"No LR Scheduler","epoch":19,"loss":0.0108},{"series":"No LR Scheduler","epoch":20,"loss":0.0102},
{"series":"No LR Scheduler","epoch":21,"loss":0.0112},{"series":"No LR Scheduler","epoch":22,"loss":0.0097},{"series":"No LR Scheduler","epoch":23,"loss":0.0102},{"series":"No LR Scheduler","epoch":24,"loss":0.009},{"series":"No LR Scheduler","epoch":25,"loss":0.0131},{"series":"No LR Scheduler","epoch":26,"loss":0.0098},{"series":"No LR Scheduler","epoch":27,"loss":0.0127},{"series":"No LR Scheduler","epoch":28,"loss":0.0289},{"series":"No LR Scheduler","epoch":29,"loss":0.0296},{"series":"No LR Scheduler","epoch":30,"loss":0.0157},
{"series":"No LR Scheduler","epoch":31,"loss":0.0134},{"series":"No LR Scheduler","epoch":32,"loss":0.0139},{"series":"No LR Scheduler","epoch":33,"loss":0.0115},{"series":"No LR Scheduler","epoch":34,"loss":0.0193},{"series":"No LR Scheduler","epoch":35,"loss":0.0104},{"series":"No LR Scheduler","epoch":36,"loss":0.0214},{"series":"No LR Scheduler","epoch":37,"loss":0.0125},{"series":"No LR Scheduler","epoch":38,"loss":0.0167},{"series":"No LR Scheduler","epoch":39,"loss":0.0141},{"series":"No LR Scheduler","epoch":40,"loss":0.012},
{"series":"No LR Scheduler","epoch":41,"loss":0.0113},{"series":"No LR Scheduler","epoch":42,"loss":0.0112},{"series":"No LR Scheduler","epoch":43,"loss":0.0125},{"series":"No LR Scheduler","epoch":44,"loss":0.0111},{"series":"No LR Scheduler","epoch":45,"loss":0.0116},{"series":"No LR Scheduler","epoch":46,"loss":0.0111},{"series":"No LR Scheduler","epoch":47,"loss":0.0115},{"series":"No LR Scheduler","epoch":48,"loss":0.01},{"series":"No LR Scheduler","epoch":49,"loss":0.01},{"series":"No LR Scheduler","epoch":50,"loss":0.0108}
]
},
"concat": [
{
"width": 508, "height": 304,
"title": "Preprocessing",
"data": {"name": "pre"},
"mark": {"type": "line"},
"encoding": {
"x": {"field": "epoch", "type": "quantitative", "scale": {"domain": [-1.45, 52.45], "nice": false, "zero": false}, "axis": {"values": [0,10,20,30,40,50], "title": "Epoch"}},
"y": {"field": "loss", "type": "quantitative", "scale": {"domain": [-0.254, 5.386], "nice": false, "zero": false}, "axis": {"values": [0,1,2,3,4,5], "format": "d", "title": "Validation Loss"}},
"color": {"field": "series", "type": "nominal", "scale": {"domain": ["Full Model (Baseline)","No J-Filter","No Normalization"], "range": ["#000000","#1f77b4","#ff7f0e"]}, "legend": {"title": null}},
"strokeWidth": {"field": "series", "type": "nominal", "scale": {"domain": ["Full Model (Baseline)","No J-Filter","No Normalization"], "range": [2.5,1.5,1.5]}, "legend": {"title": null}},
"opacity": {"field": "series", "type": "nominal", "scale": {"domain": ["Full Model (Baseline)","No J-Filter","No Normalization"], "range": [0.9,0.8,0.8]}, "legend": {"title": null}}
}
},
{
"width": 503, "height": 304,
"title": "Architecture",
"data": {"name": "arch"},
"mark": {"type": "line"},
"encoding": {
"x": {"field": "epoch", "type": "quantitative", "scale": {"domain": [-1.45, 51.84], "nice": false, "zero": false}, "axis": {"values": [0,10,20,30,40,50], "title": "Epoch"}},
"y": {"field": "loss", "type": "quantitative", "scale": {"domain": [-0.0054, 0.2685], "nice": false, "zero": false}, "axis": {"values": [0,0.05,0.1,0.15,0.2,0.25], "format": ".2f", "title": "Validation Loss"}},
"color": {"field": "series", "type": "nominal", "scale": {"domain": ["Full Model (Baseline)","No BatchNorm","No Dropout","Single Conv/Block","Half Channels","No Conv3 + GAP"], "range": ["#000000","#1f77b4","#ff7f0e","#2ca02c","#d62728","#9467bd"]}, "legend": {"title": null}},
"strokeWidth": {"field": "series", "type": "nominal", "scale": {"domain": ["Full Model (Baseline)","No BatchNorm","No Dropout","Single Conv/Block","Half Channels","No Conv3 + GAP"], "range": [2.5,1.5,1.5,1.5,1.5,1.5]}, "legend": {"title": null}},
"opacity": {"field": "series", "type": "nominal", "scale": {"domain": ["Full Model (Baseline)","No BatchNorm","No Dropout","Single Conv/Block","Half Channels","No Conv3 + GAP"], "range": [0.9,0.8,0.8,0.8,0.8,0.8]}, "legend": {"title": null}}
}
},
{
"width": 508, "height": 304,
"title": "Multi-Task",
"data": {"name": "multi"},
"mark": {"type": "line"},
"encoding": {
"x": {"field": "epoch", "type": "quantitative", "scale": {"domain": [-1.45, 52.45], "nice": false, "zero": false}, "axis": {"values": [0,10,20,30,40,50], "title": "Epoch"}},
"y": {"field": "loss", "type": "quantitative", "scale": {"domain": [-0.0047, 0.0988], "nice": false, "zero": false}, "axis": {"values": [0,0.02,0.04,0.06,0.08], "format": ".2f", "title": "Validation Loss"}},
"color": {"field": "series", "type": "nominal", "scale": {"domain": ["Full Model (Baseline)","Classification Only","Localization Only","Weighted Loss (0.5/2.0)"], "range": ["#000000","#1f77b4","#ff7f0e","#2ca02c"]}, "legend": {"title": null}},
"strokeWidth": {"field": "series", "type": "nominal", "scale": {"domain": ["Full Model (Baseline)","Classification Only","Localization Only","Weighted Loss (0.5/2.0)"], "range": [2.5,1.5,1.5,1.5]}, "legend": {"title": null}},
"opacity": {"field": "series", "type": "nominal", "scale": {"domain": ["Full Model (Baseline)","Classification Only","Localization Only","Weighted Loss (0.5/2.0)"], "range": [0.9,0.8,0.8,0.8]}, "legend": {"title": null}}
}
},
{
"width": 503, "height": 304,
"title": "Training",
"data": {"name": "train"},
"mark": {"type": "line"},
"encoding": {
"x": {"field": "epoch", "type": "quantitative", "scale": {"domain": [-1.45, 51.84], "nice": false, "zero": false}, "axis": {"values": [0,10,20,30,40,50], "title": "Epoch"}},
"y": {"field": "loss", "type": "quantitative", "scale": {"domain": [0.0056, 0.0796], "nice": false, "zero": false}, "axis": {"values": [0.01,0.02,0.03,0.04,0.05,0.06,0.07], "format": ".2f", "title": "Validation Loss"}},
"color": {"field": "series", "type": "nominal", "scale": {"domain": ["Full Model (Baseline)","No Weight Decay","No LR Scheduler"], "range": ["#000000","#1f77b4","#ff7f0e"]}, "legend": {"title": null}},
"strokeWidth": {"field": "series", "type": "nominal", "scale": {"domain": ["Full Model (Baseline)","No Weight Decay","No LR Scheduler"], "range": [2.5,1.5,1.5]}, "legend": {"title": null}},
"opacity": {"field": "series", "type": "nominal", "scale": {"domain": ["Full Model (Baseline)","No Weight Decay","No LR Scheduler"], "range": [0.9,0.8,0.8]}, "legend": {"title": null}}
}
}
]
}
